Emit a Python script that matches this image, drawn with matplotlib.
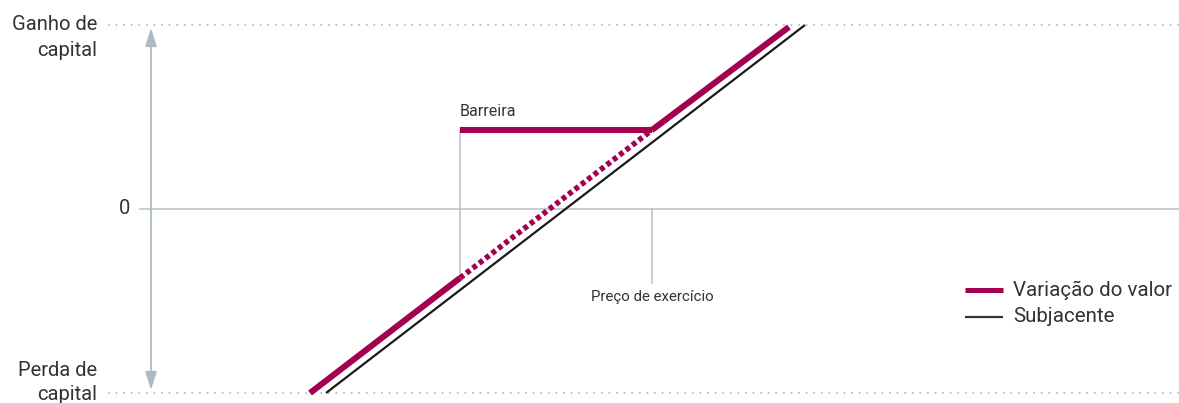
import matplotlib.pyplot as plt

# payoff chart, units: underlying price vs. gain
barrier = 46.0
strike = 65.2
barrier_level = 7.9

underlying_x = [32.6, 80.5]
underlying_y = [-18.4, 18.4]

value_low_x = [31.0, barrier]
value_low_y = [-18.4, -6.9]
value_knock_x = [barrier, strike]
value_knock_y = [-6.9, barrier_level]
value_barrier_x = [barrier, strike]
value_barrier_y = [barrier_level, barrier_level]
value_high_x = [strike, 78.9]
value_high_y = [barrier_level, 18.2]

gain_top = 18.4
gain_bottom = -18.4

magenta = '#A3004F'
grey = '#B4C1C9'
text_c = '#333333'

plt.rcParams['font.family'] = ['Roboto', 'DejaVu Sans']

fig = plt.figure(figsize=(11.79, 4.03), dpi=100)
ax = fig.add_axes([0, 0, 1, 1])
ax.set_xlim(0, 117.9)
ax.set_ylim(-19.4, 20.9)
ax.axis('off')

# guide lines
ax.plot([10.8, 117.9], [gain_top, gain_top], color=grey, lw=1.3, ls=(0, (1, 3.2)))
ax.plot([10.8, 117.9], [gain_bottom, gain_bottom], color=grey, lw=1.3, ls=(0, (1, 3.2)))
ax.plot([14.0, 117.9], [0, 0], color=grey, lw=1.1)
ax.annotate('', xy=(15.1, gain_top - 0.3), xytext=(15.1, gain_bottom + 0.3),
            arrowprops=dict(arrowstyle='<|-|>,head_length=1.1,head_width=0.35',
                            color='#AEBAC2', lw=1.3, shrinkA=0, shrinkB=0))
ax.plot([barrier, barrier], [barrier_level, -6.6], color=grey, lw=1.1)
ax.plot([strike, strike], [0, -7.4], color=grey, lw=1.1)

# lines
ax.plot(underlying_x, underlying_y, color='#1a1a1a', lw=1.6, solid_capstyle='butt')
ax.plot(value_low_x, value_low_y, color=magenta, lw=4.4, solid_capstyle='butt')
ax.plot(value_knock_x, value_knock_y, color=magenta, lw=4.0, ls=(0, (0.85, 0.6)),
        dash_capstyle='butt')
ax.plot(value_barrier_x, value_barrier_y, color=magenta, lw=4.4, solid_capstyle='butt')
ax.plot(value_high_x, value_high_y, color=magenta, lw=4.4, solid_capstyle='butt')

# texts
lab = dict(ha='right', va='center', fontsize=14.5, color=text_c)
ax.text(9.7, 18.4, 'Ganho de', **lab)
ax.text(9.7, 15.9, 'capital', **lab)
ax.text(13.0, 0, '0', **lab)
ax.text(9.7, -16.1, 'Perda de', **lab)
ax.text(9.7, -18.6, 'capital', **lab)

ax.text(barrier, barrier_level + 1.1, 'Barreira', ha='left', va='bottom', fontsize=11.5,
        color=text_c)
ax.text(strike, -8.8, 'Preço de exercício', ha='center', va='center', fontsize=10.8,
        color=text_c)

# legend
leg = dict(ha='left', va='center', fontsize=14.8, color=text_c)
ax.plot([96.5, 100.3], [-8.1, -8.1], color=magenta, lw=3.6, solid_capstyle='butt')
ax.text(101.3, -8.1, 'Variação do valor', **leg)
ax.plot([96.5, 100.3], [-10.8, -10.8], color='#333333', lw=1.6, solid_capstyle='butt')
ax.text(101.3, -10.8, 'Subjacente', **leg)

fig.savefig('out.png', dpi=100)
